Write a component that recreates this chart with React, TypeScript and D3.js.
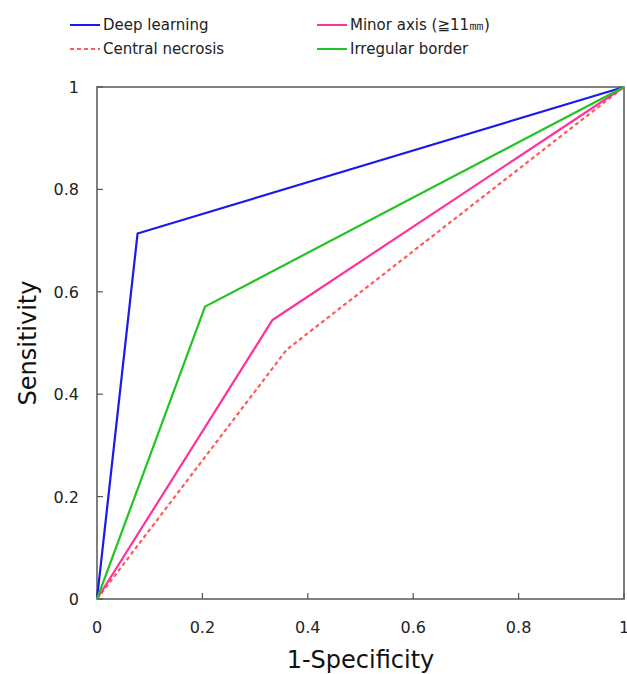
import React, { useEffect, useRef } from 'react';
import * as d3 from 'd3';

// ROC curves: [1-specificity, sensitivity]
const deepLearning: [number, number][] = [[0, 0], [0.077, 0.714], [1, 1]];
const minorAxis: [number, number][] = [[0, 0], [0.333, 0.545], [1, 1]];
const centralNecrosis: [number, number][] = [[0, 0], [0.36, 0.487], [1, 1]];
const irregularBorder: [number, number][] = [[0, 0], [0.205, 0.571], [1, 1]];

const ticks = [0, 0.2, 0.4, 0.6, 0.8, 1];
const tickLabels = ['0', '0.2', '0.4', '0.6', '0.8', '1'];

const series = [
    { name: 'Deep learning', data: deepLearning, color: '#1a1aee', dash: null, col: 0, row: 0 },
    { name: 'Central necrosis', data: centralNecrosis, color: '#ff5a5a', dash: '4,3', col: 0, row: 1 },
    { name: 'Minor axis (≧11㎜)', data: minorAxis, color: '#ff3399', dash: null, col: 1, row: 0 },
    { name: 'Irregular border', data: irregularBorder, color: '#22c422', dash: null, col: 1, row: 1 },
];

const App = () => {
    const ref = useRef<SVGSVGElement>(null);

    useEffect(() => {
        const svg = d3.select(ref.current);
        svg.selectAll('*').remove();

        const font = 'DejaVu Sans, Verdana, sans-serif';
        const x = d3.scaleLinear().domain([0, 1]).range([97, 624]);
        const y = d3.scaleLinear().domain([0, 1]).range([599, 87]);

        // plot frame
        svg.append('rect')
            .attr('x', x(0)).attr('y', y(1))
            .attr('width', x(1) - x(0)).attr('height', y(0) - y(1))
            .attr('fill', 'none').attr('stroke', '#555').attr('stroke-width', 1.5);

        // x ticks (inward)
        const gx = svg.append('g');
        ticks.forEach((t, i) => {
            gx.append('line')
                .attr('x1', x(t)).attr('x2', x(t))
                .attr('y1', y(0)).attr('y2', y(0) - 6)
                .attr('stroke', '#555').attr('stroke-width', 1.2);
            gx.append('text')
                .attr('x', x(t)).attr('y', 633)
                .attr('text-anchor', 'middle')
                .attr('font-family', font).attr('font-size', 16).attr('fill', '#222')
                .text(tickLabels[i]);
        });

        // y ticks (inward)
        const gy = svg.append('g');
        ticks.forEach((t, i) => {
            gy.append('line')
                .attr('x1', x(0)).attr('x2', x(0) + 6)
                .attr('y1', y(t)).attr('y2', y(t))
                .attr('stroke', '#555').attr('stroke-width', 1.2);
            gy.append('text')
                .attr('x', 79).attr('y', y(t) + 6)
                .attr('text-anchor', 'end')
                .attr('font-family', font).attr('font-size', 16).attr('fill', '#222')
                .text(tickLabels[i]);
        });

        // axis titles
        svg.append('text')
            .attr('x', (x(0) + x(1)) / 2).attr('y', 668)
            .attr('text-anchor', 'middle')
            .attr('font-family', font).attr('font-size', 24).attr('fill', '#111')
            .text('1-Specificity');
        svg.append('text')
            .attr('transform', `translate(36,${(y(0) + y(1)) / 2}) rotate(-90)`)
            .attr('text-anchor', 'middle')
            .attr('font-family', font).attr('font-size', 24).attr('fill', '#111')
            .text('Sensitivity');

        // curves
        const line = d3.line<[number, number]>().x(d => x(d[0])).y(d => y(d[1]));
        series.forEach(s => {
            svg.append('path')
                .datum(s.data)
                .attr('d', line)
                .attr('fill', 'none')
                .attr('stroke', s.color)
                .attr('stroke-width', 2.2)
                .attr('stroke-linejoin', 'round')
                .attr('stroke-dasharray', s.dash);
        });

        // legend
        const lg = svg.append('g');
        series.forEach(s => {
            const lx = s.col === 0 ? 70 : 317;
            const ly = s.row === 0 ? 25 : 49;
            lg.append('line')
                .attr('x1', lx).attr('x2', lx + 30)
                .attr('y1', ly).attr('y2', ly)
                .attr('stroke', s.color).attr('stroke-width', 2)
                .attr('stroke-dasharray', s.dash);
            lg.append('text')
                .attr('x', lx + 33).attr('y', ly + 5)
                .attr('font-family', font).attr('font-size', 15).attr('fill', '#222')
                .text(s.name);
        });
    }, []);

    return (
        <svg ref={ref} width={627} height={674}
            style={{ position: 'absolute', left: 0, top: 0, background: '#fff' }} />
    );
};

export default App;
